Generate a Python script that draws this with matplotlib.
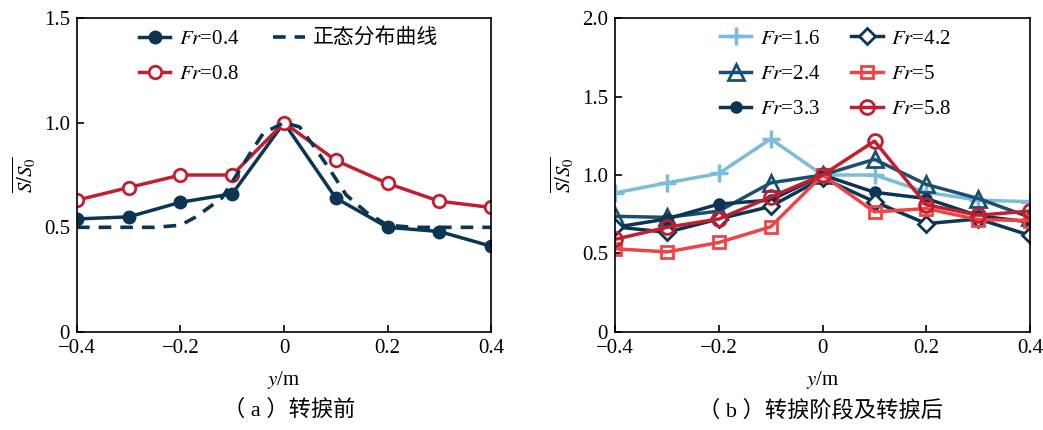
import matplotlib.pyplot as plt

plt.rcParams['font.family'] = ['Liberation Serif', 'Noto Sans CJK SC']
plt.rcParams['mathtext.fontset'] = 'stix'

# 横向位置 y/m
y_pos = [-0.4, -0.3, -0.2, -0.1, 0.0, 0.1, 0.2, 0.3, 0.4]

# (a) 转捩前
fr04 = [0.54, 0.55, 0.62, 0.66, 1.00, 0.64, 0.50, 0.48, 0.41]
fr08 = [0.63, 0.69, 0.75, 0.75, 1.00, 0.82, 0.71, 0.625, 0.595]

# 正态分布曲线 (读图取点)
norm_x = [-0.4, -0.3, -0.25, -0.2, -0.17, -0.12, -0.065, -0.04, 0.0,
          0.03, 0.06, 0.09, 0.12, 0.16, 0.2, 0.25, 0.3, 0.4]
norm_y = [0.5, 0.5, 0.5, 0.51, 0.55, 0.64, 0.855, 0.95, 1.0,
          0.98, 0.88, 0.77, 0.655, 0.57, 0.51, 0.5, 0.5, 0.5]

# (b) 转捩阶段及转捩后
fr16 = [0.886, 0.95, 1.01, 1.23, 1.00, 1.00, 0.89, 0.84, 0.83]
fr24 = [0.737, 0.73, 0.77, 0.95, 1.00, 1.10, 0.94, 0.85, 0.73]
fr33 = [0.667, 0.72, 0.815, 0.84, 1.00, 0.89, 0.85, 0.74, 0.70]
fr42 = [0.67, 0.635, 0.72, 0.80, 0.98, 0.83, 0.69, 0.72, 0.615]
fr50 = [0.53, 0.51, 0.57, 0.67, 1.00, 0.765, 0.786, 0.716, 0.71]
fr58 = [0.59, 0.667, 0.72, 0.86, 1.00, 1.216, 0.81, 0.744, 0.77]

navy = '#0c3553'
red = '#c11f30'
lblue = '#7bbcd8'
mblue = '#1b4f6f'
bred = '#ef4446'

fig = plt.figure(figsize=(10.43, 4.30), dpi=100)
ax1 = fig.add_axes([0.0738, 0.228, 0.397, 0.730])
ax2 = fig.add_axes([0.5897, 0.228, 0.398, 0.730])

lw = 2.5
ms = 9
mew = 2

ax1.plot(y_pos, fr04, color=navy, lw=lw, marker='o', ms=ms, label=r'$Fr$=0.4')
ax1.plot(y_pos, fr08, color=red, lw=lw, marker='o', ms=ms, mfc='white', mew=mew,
         label=r'$Fr$=0.8')
ax1.plot(norm_x, norm_y, color=navy, lw=2.6, ls=(0, (3.5, 2.5)), label='正态分布曲线')
ax1.set_ylim(0, 1.5)
ax1.set_yticks([0, 0.5, 1.0, 1.5])
ax1.set_yticklabels(['0', '0.5', '1.0', '1.5'])

ax2.plot(y_pos, fr16, color=lblue, lw=lw, marker='+', ms=13, mew=2.5, label=r'$Fr$=1.6')
ax2.plot(y_pos, fr24, color=mblue, lw=lw, marker='^', ms=ms + 2, mfc='none', mew=mew,
         label=r'$Fr$=2.4')
ax2.plot(y_pos, fr33, color=navy, lw=lw, marker='o', ms=ms - 1, label=r'$Fr$=3.3')
ax2.plot(y_pos, fr42, color=navy, lw=lw, marker='D', ms=ms - 1, mfc='white', mew=mew,
         label=r'$Fr$=4.2')
ax2.plot(y_pos, fr50, color=bred, lw=lw, marker='s', ms=ms, mfc='none', mew=mew,
         label=r'$Fr$=5')
ax2.plot(y_pos, fr58, color=red, lw=lw, marker='o', ms=ms + 1, mfc='none', mew=mew,
         label=r'$Fr$=5.8')
ax2.set_ylim(0, 2.0)
ax2.set_yticks([0, 0.5, 1.0, 1.5, 2.0])
ax2.set_yticklabels(['0', '0.5', '1.0', '1.5', '2.0'])

for ax in (ax1, ax2):
    ax.set_xlim(-0.4, 0.4)
    ax.set_xticks([-0.4, -0.2, 0, 0.2, 0.4])
    ax.set_xticklabels(['\u22120.4', '\u22120.2', '0', '0.2', '0.4'])
    ax.tick_params(direction='in', labelsize=15, length=5, width=1.2, pad=5)
    for s in ax.spines.values():
        s.set_linewidth(1.2)
    ax.set_xlabel(r'$y$/m', fontsize=15, labelpad=8)
    ax.set_ylabel(r'$\overline{S/S_0}$', fontsize=15, labelpad=4)

ax1.legend(ncol=2, loc='upper left', bbox_to_anchor=(0.15, 0.965), frameon=False,
           fontsize=15, handlelength=1.5, handletextpad=0.4, columnspacing=1.65,
           labelspacing=0.75, borderpad=0, borderaxespad=0)
ax2.legend(ncol=2, loc='upper left', bbox_to_anchor=(0.253, 0.965), frameon=False,
           fontsize=15, handlelength=1.5, handletextpad=0.4, columnspacing=1.5,
           labelspacing=0.75, borderpad=0, borderaxespad=0)

fig.text(0.277, 0.045, '（ a ）转捩前', ha='center', va='center', fontsize=16)
fig.text(0.787, 0.045, '（ b ）转捩阶段及转捩后', ha='center', va='center', fontsize=16)

fig.savefig('out.png', dpi=100)
